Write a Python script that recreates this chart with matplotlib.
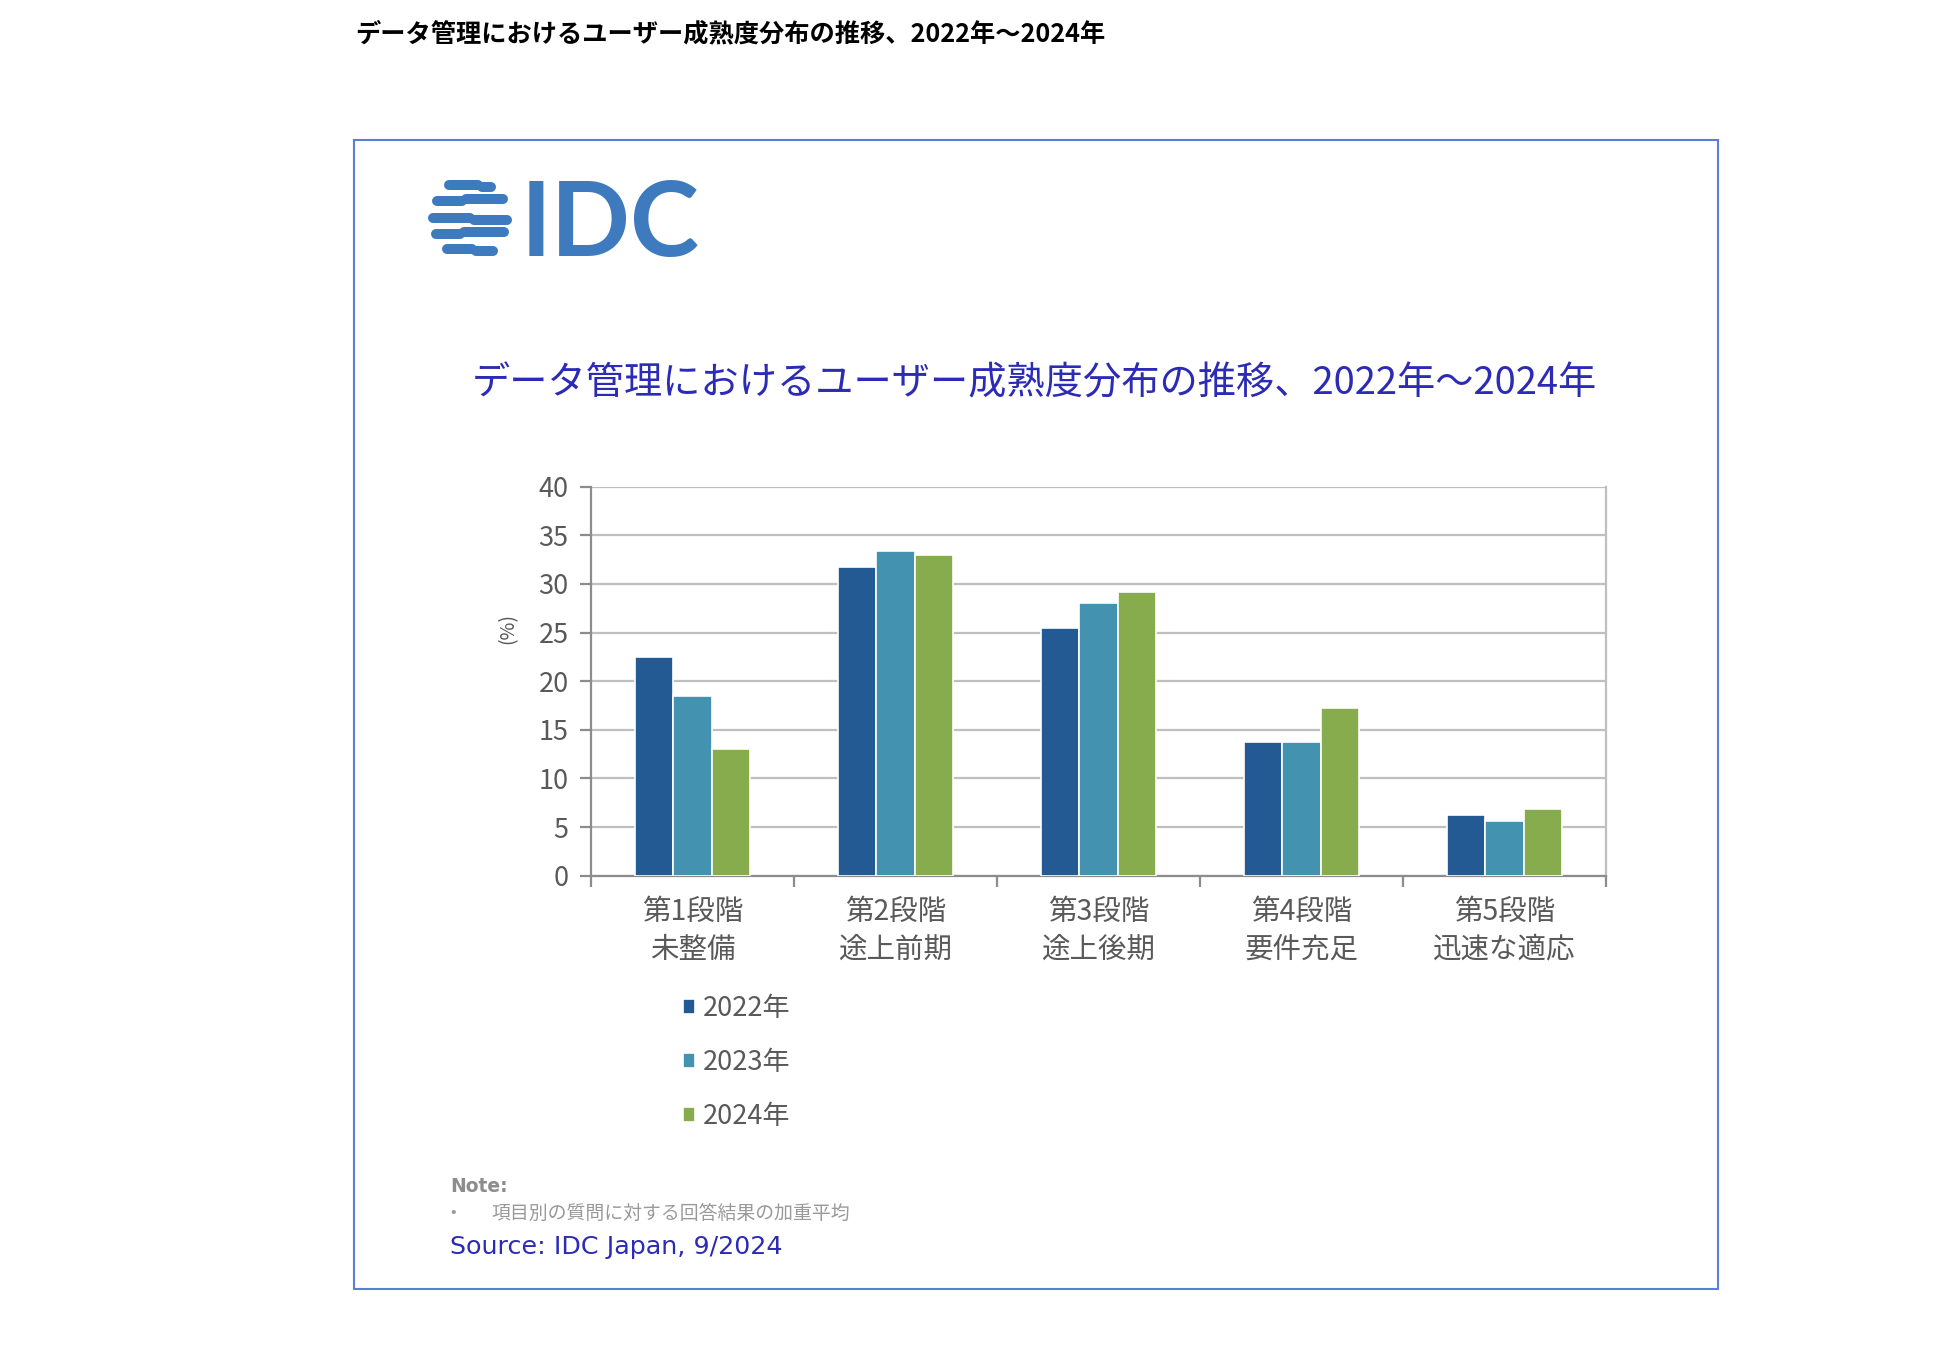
import numpy as np
import matplotlib
matplotlib.use("Agg")
import matplotlib.pyplot as plt
from matplotlib.patches import Rectangle
from matplotlib.transforms import blended_transform_factory

plt.rcParams['font.family'] = ['Noto Sans CJK JP', 'DejaVu Sans']

# データ
stages = ['第1段階\n未整備', '第2段階\n途上前期', '第3段階\n途上後期', '第4段階\n要件充足', '第5段階\n迅速な適応']
years = ['2022年', '2023年', '2024年']
v2022 = [22.5, 31.7, 25.5, 13.7, 6.2]
v2023 = [18.5, 33.4, 28.0, 13.7, 5.6]
v2024 = [13.0, 33.0, 29.2, 17.2, 6.9]
colors = ['#245A93', '#4393B0', '#87AC4E']
yticks = [0, 5, 10, 15, 20, 25, 30, 35, 40]

W, H = 1940, 1350
fig = plt.figure(figsize=(W / 100, H / 100), dpi=100)

def fx(px):
    return px / W

def fy(py):
    return 1 - py / H

gray = '#595959'

# ページの見出し
fig.text(fx(355), fy(34), 'データ管理におけるユーザー成熟度分布の推移、2022年～2024年',
         fontsize=18.2, fontweight='bold', color='black', va='center', ha='left')

# 枠
fig.patches.append(Rectangle((fx(354), fy(1289)), fx(1718) - fx(354), fy(140) - fy(1289),
                             transform=fig.transFigure, fill=False, edgecolor='#5B7FD6', lw=1.5))

# IDC ロゴ
logo = fig.add_axes([fx(420), fy(265), fx(300), fy(172) - fy(265)])
logo.set_xlim(420, 720)
logo.set_ylim(265, 172)
logo.axis('off')
logo_c = '#3D7ABE'
cx, cy, r = 470, 218, 42
# (縦位置, 段差の位置, 段差のずれ)
stripes = [(185, 478, 2), (201, 462, -2), (218, 470, 2), (234, 460, -2), (249, 472, 2)]
for y, xm, dy in stripes:
    hw = np.sqrt(max(r ** 2 - (y - cy) ** 2, 0)) - 5
    logo.plot([cx - hw, xm], [y, y], color=logo_c, lw=7.2, solid_capstyle='round')
    logo.plot([xm + 4, cx + hw], [y + dy, y + dy], color=logo_c, lw=7.2, solid_capstyle='round')
logo.text(521, 256, 'IDC', fontsize=75, color=logo_c, fontweight='bold', family='Lato',
          va='baseline', ha='left')

# グラフタイトル
fig.text(fx(1034), fy(384), 'データ管理におけるユーザー成熟度分布の推移、2022年～2024年',
         fontsize=27.5, color='#2B2BB5', va='center', ha='center')

# 棒グラフ
ax = fig.add_axes([fx(591), fy(875.7), fx(1606) - fx(591), fy(486.7) - fy(875.7)])
x = np.arange(len(stages))
bw = 0.19
for i, (vals, c) in enumerate(zip([v2022, v2023, v2024], colors)):
    ax.bar(x + (i - 1) * bw, vals, width=bw, color=c, edgecolor='white', lw=1.2,
           label=years[i], zorder=3)

ax.set_xlim(-0.5, len(stages) - 0.5)
ax.set_ylim(0, 40)
ax.set_yticks(yticks)
ax.set_yticklabels([str(t) for t in yticks], fontsize=19.5, color=gray)
ax.yaxis.grid(True, color='#BFBFBF', lw=1.6, zorder=0)
ax.set_axisbelow(True)
for s in ['left', 'bottom', 'right']:
    ax.spines[s].set_color('#8C8C8C')
    ax.spines[s].set_linewidth(1.6)
ax.spines['right'].set_color('#BFBFBF')
ax.spines['top'].set_visible(False)
ax.tick_params(axis='y', length=8, width=1.6, color='#8C8C8C', pad=8)
ax.set_xticks(np.arange(-0.5, len(stages), 1))
ax.tick_params(axis='x', length=8, width=1.6, color='#8C8C8C', labelbottom=False)
tr = blended_transform_factory(ax.transData, ax.transAxes)
for i, lab in enumerate(stages):
    top, bottom = lab.split('\n')
    ax.text(x[i], -0.093, top, fontsize=20.5, color=gray, ha='center', va='center', transform=tr)
    ax.text(x[i], -0.19, bottom, fontsize=20.5, color=gray, ha='center', va='center', transform=tr)
fig.text(fx(508), fy(629), '(%)', fontsize=14, color=gray, rotation=90, va='center', ha='center')

# 凡例
leg = ax.legend(loc='upper left', frameon=False,
                fontsize=19.5, labelcolor=gray, handlelength=0.45, handleheight=0.45,
                handletextpad=0.3, labelspacing=1.0, borderaxespad=0, borderpad=0)
leg.set_bbox_to_anchor((fx(683), fy(995)), transform=fig.transFigure)

# 注記
fig.text(fx(450), fy(1186), 'Note:', fontsize=13.5, fontweight='bold', color='#8C8C8C',
         va='center', ha='left', family='DejaVu Sans')
fig.text(fx(450), fy(1213), '•', fontsize=12, color='#999999', va='center', ha='left')
fig.text(fx(491), fy(1213), '項目別の質問に対する回答結果の加重平均', fontsize=13.6,
         color='#999999', va='center', ha='left')
fig.text(fx(450), fy(1247), 'Source: IDC Japan, 9/2024', fontsize=18.3, color='#2B2BB5',
         va='center', ha='left', family='DejaVu Sans')

fig.savefig('out.png', dpi=100, facecolor='white')
